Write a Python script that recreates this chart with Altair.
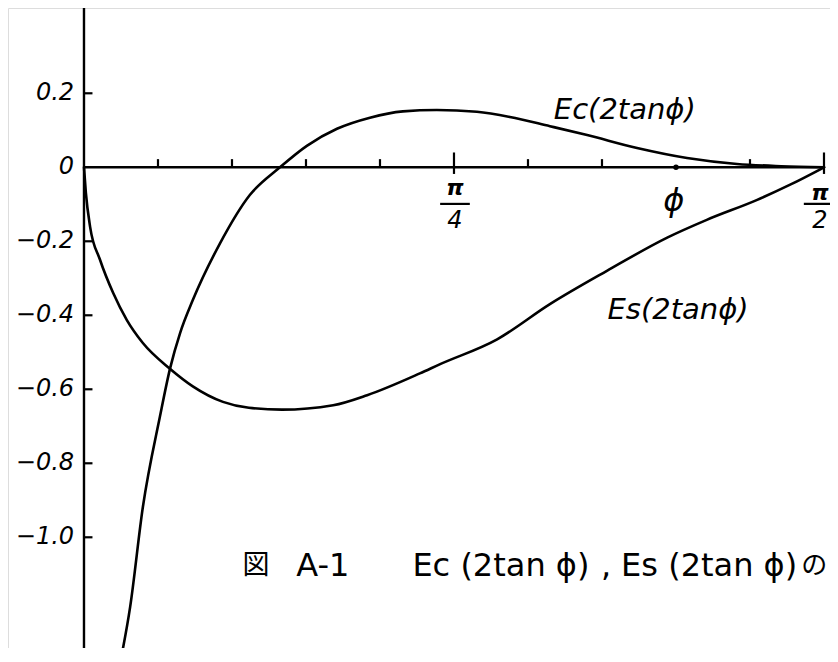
import math
import altair as alt
import pandas as pd

# ---- data ----
ec_phi = [0.078, 0.098, 0.125, 0.161, 0.183, 0.204, 0.231, 0.289, 0.352, 0.416, 0.473, 0.537,
          0.607, 0.677, 0.749, 0.834, 0.904, 0.989, 1.068, 1.174, 1.280, 1.386, 1.480, 1.571]
ec_val = [-1.332, -1.188, -0.918, -0.675, -0.542, -0.448, -0.359, -0.205, -0.075, 0.0, 0.058, 0.104,
          0.134, 0.151, 0.155, 0.150, 0.136, 0.111, 0.087, 0.052, 0.025, 0.009, 0.003, 0.0]
es_phi = [0.0, 0.004, 0.013, 0.034, 0.062, 0.091, 0.125, 0.183, 0.231, 0.295, 0.350, 0.420,
          0.529, 0.601, 0.713, 0.756, 0.877, 0.989, 1.110, 1.238, 1.322, 1.429, 1.499, 1.571]
es_val = [0.0, -0.069, -0.161, -0.250, -0.340, -0.413, -0.475, -0.545, -0.592, -0.634, -0.650, -0.655,
          -0.643, -0.616, -0.557, -0.532, -0.465, -0.370, -0.280, -0.190, -0.142, -0.088, -0.047, 0.0]

x_tick_steps = [1, 2, 3, 4, 5, 6, 7, 9, 10]          # multiples of pi/20
phi_mark_step = 8                                     # the point marked "phi"
y_tick_values = [0.2, -0.2, -0.4, -0.6, -0.8, -1.0]
y_label_values = [0.2, 0.0, -0.2, -0.4, -0.6, -0.8, -1.0]
y_label_texts = ["0.2", "0", "−0.2", "−0.4", "−0.6", "−0.8", "−1.0"]

series_labels = ["Ec(2tanϕ)", "Es(2tanϕ)"]
caption_parts = ["図", "A-1", "Ec (2tan ϕ)", ",", "Es (2tan ϕ)", "の"]
caption_x = [0.365, 0.507, 0.885, 1.108, 1.327, 1.550]
caption_fonts = ["Noto Sans CJK JP", "DejaVu Sans", "DejaVu Sans", "DejaVu Sans", "DejaVu Sans", "Noto Sans CJK JP"]
caption_sizes = [27, 32, 32, 32, 32, 26]

# ---- scales ----
W, H = 822, 640
XMIN, XMAX = -0.1613, -0.1613 + W / 471.1
YMAX = 0.4305
YMIN = YMAX - H / 370.0
xs = alt.Scale(domain=[XMIN, XMAX], nice=False, zero=False)
ys = alt.Scale(domain=[YMIN, YMAX], nice=False, zero=False)
FONT = "DejaVu Sans"

curves = pd.DataFrame(
    {"phi": ec_phi + es_phi,
     "val": ec_val + es_val,
     "series": ["Ec"] * len(ec_phi) + ["Es"] * len(es_phi)}
)
lines = alt.Chart(curves).mark_line(color="black", strokeWidth=2.6, interpolate="monotone",
                                    strokeCap="round", clip=True).encode(
    x=alt.X("phi:Q", scale=xs, axis=None),
    y=alt.Y("val:Q", scale=ys, axis=None),
    detail="series:N",
)

# axes lines
yaxis = alt.Chart(pd.DataFrame({"x": [0.0], "y": [YMAX], "y2": [YMIN]})).mark_rule(color="black", strokeWidth=2.4).encode(
    x=alt.X("x:Q", scale=xs), y=alt.Y("y:Q", scale=ys), y2="y2:Q")
xaxis = alt.Chart(pd.DataFrame({"x": [0.0], "x2": [math.pi / 2], "y": [0.0]})).mark_rule(color="black", strokeWidth=2.4).encode(
    x=alt.X("x:Q", scale=xs), x2="x2:Q", y=alt.Y("y:Q", scale=ys))

# x ticks
tk = pd.DataFrame({"k": x_tick_steps})
tk["x"] = tk["k"] * math.pi / 20
tk["y0"] = [-0.018 if k in (5, 10) else 0.0 for k in x_tick_steps]
tk["y1"] = [0.04 if k in (5, 10) else 0.022 for k in x_tick_steps]
xticks = alt.Chart(tk).mark_rule(color="black", strokeWidth=2.2).encode(
    x=alt.X("x:Q", scale=xs), y=alt.Y("y0:Q", scale=ys), y2="y1:Q")

phidot = alt.Chart(pd.DataFrame({"x": [phi_mark_step * math.pi / 20], "y": [0.0]})).mark_point(
    filled=True, color="black", size=30, opacity=1).encode(x=alt.X("x:Q", scale=xs), y=alt.Y("y:Q", scale=ys))

# y ticks
yt = pd.DataFrame({"y": y_tick_values})
yt["x0"] = 0.0
yt["x1"] = 0.018
yticks = alt.Chart(yt).mark_rule(color="black", strokeWidth=2.2).encode(
    y=alt.Y("y:Q", scale=ys), x=alt.X("x0:Q", scale=xs), x2="x1:Q")

ylab = pd.DataFrame({"y": y_label_values, "t": y_label_texts})
ylab["x"] = -0.021
ylabels = alt.Chart(ylab).mark_text(align="right", baseline="middle", font=FONT, fontSize=24,
                                    fontStyle="italic", color="black").encode(
    x=alt.X("x:Q", scale=xs), y=alt.Y("y:Q", scale=ys), text="t:N")

# x labels (fractions and phi)
num = pd.DataFrame({"x": [0.7875, 1.562], "y": [-0.056, -0.070], "t": ["π", "π"]})
nums = alt.Chart(num).mark_text(font=FONT, fontSize=22, fontWeight="bold", fontStyle="italic", color="black").encode(
    x=alt.X("x:Q", scale=xs), y=alt.Y("y:Q", scale=ys), text="t:N")
den = pd.DataFrame({"x": [0.7875, 1.562], "y": [-0.145, -0.145], "t": ["4", "2"]})
dens = alt.Chart(den).mark_text(font=FONT, fontSize=24, fontStyle="italic", color="black").encode(
    x=alt.X("x:Q", scale=xs), y=alt.Y("y:Q", scale=ys), text="t:N")
bars = pd.DataFrame({"x": [0.756, 1.528], "x2": [0.819, 1.60], "y": [-0.099, -0.099]})
fbars = alt.Chart(bars).mark_rule(color="black", strokeWidth=2.2).encode(
    x=alt.X("x:Q", scale=xs), x2="x2:Q", y=alt.Y("y:Q", scale=ys))
phil = alt.Chart(pd.DataFrame({"x": [1.252], "y": [-0.091], "t": ["ϕ"]})).mark_text(
    font=FONT, fontSize=32, fontStyle="italic", color="black").encode(
    x=alt.X("x:Q", scale=xs), y=alt.Y("y:Q", scale=ys), text="t:N")

# curve labels
sl = pd.DataFrame({"x": [1.148, 1.261], "y": [0.155, -0.385], "t": series_labels})
slabels = alt.Chart(sl).mark_text(font=FONT, fontSize=29, fontStyle="italic", color="black").encode(
    x=alt.X("x:Q", scale=xs), y=alt.Y("y:Q", scale=ys), text="t:N")

# caption
capdf = pd.DataFrame({"x": caption_x, "t": caption_parts, "f": caption_fonts, "s": caption_sizes})
capdf["y"] = -1.078
cap_layers = []
for f in sorted(set(caption_fonts)):
    for s in sorted(set(caption_sizes)):
        sub = capdf[(capdf["f"] == f) & (capdf["s"] == s)]
        if len(sub) == 0:
            continue
        cap_layers.append(alt.Chart(sub).mark_text(font=f, fontSize=s, baseline="middle", color="black").encode(
            x=alt.X("x:Q", scale=xs), y=alt.Y("y:Q", scale=ys), text="t:N"))

chart = alt.layer(lines, yaxis, xaxis, xticks, phidot, yticks, ylabels, nums, dens, fbars, phil, slabels,
                  *cap_layers).properties(
    width=W, height=H, padding=0, autosize=alt.AutoSizeParams(type="none")
).configure_view(stroke=None).configure(background="white")

chart.save("out.html", embed_options={"renderer": "svg", "actions": False})
